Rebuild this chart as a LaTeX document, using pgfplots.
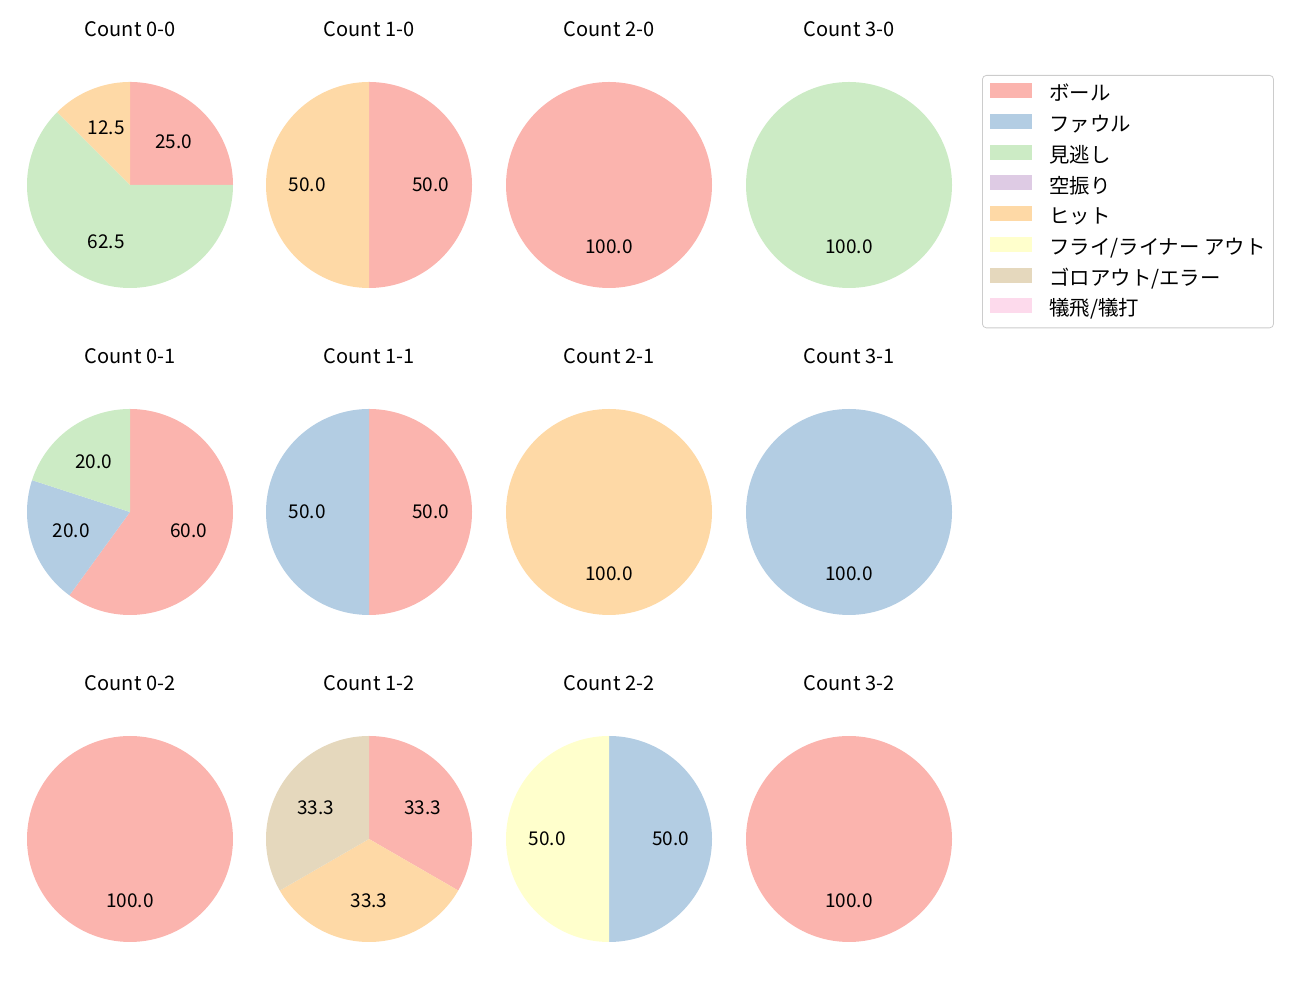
\documentclass[border=0pt]{standalone}
\usepackage{pgfplots}
\pgfplotsset{compat=1.18}
\usepackage{fontspec}
\setmainfont{Noto Sans CJK JP}
\definecolor{cBall}{HTML}{FBB4AE}
\definecolor{cFoul}{HTML}{B3CDE3}
\definecolor{cLook}{HTML}{CCEBC5}
\definecolor{cSwing}{HTML}{DECBE4}
\definecolor{cHit}{HTML}{FED9A6}
\definecolor{cFly}{HTML}{FFFFCC}
\definecolor{cGround}{HTML}{E5D8BD}
\definecolor{cSac}{HTML}{FDDAEC}
% #1 colour, #2 start %, #3 end % (clockwise from 12 o'clock), #4 label
\newcommand{\slice}[4]{%
  \addplot[fill=#1, draw=none, domain={90-3.6*#3}:{90-3.6*#2}, samples=121, forget plot]
    ({cos(x)},{sin(x)}) -- (axis cs:0,0) -- cycle;
  \node[font=\fontsize{9.5}{11}\selectfont] at (axis cs:{0.6*cos(90-1.8*(#2+#3))},{0.6*sin(90-1.8*(#2+#3))}) {#4};
}
\pgfplotsset{pie/.style={scale only axis, width=103pt, height=103pt,
  xmin=-1, xmax=1, ymin=-1, ymax=1, hide axis, clip=false, anchor=center,
  every axis title/.style={at={(0.5,1)}, anchor=base, yshift=22.5pt, font=\fontsize{10}{12}\selectfont}}}
\begin{document}
\begin{tikzpicture}
\path[use as bounding box] (0,0) rectangle (650pt,500pt);
% Row 1
\begin{axis}[pie, at={(65pt,407.5pt)}, title={Count 0-0}]
\slice{cBall}{0}{25}{25.0}
\slice{cLook}{25}{87.5}{62.5}
\slice{cHit}{87.5}{100}{12.5}
\end{axis}
\begin{axis}[pie, at={(184.5pt,407.5pt)}, title={Count 1-0}]
\slice{cBall}{0}{50}{50.0}
\slice{cHit}{50}{100}{50.0}
\end{axis}
\begin{axis}[pie, at={(304.5pt,407.5pt)}, title={Count 2-0}]
\slice{cBall}{0}{100}{100.0}
\end{axis}
\begin{axis}[pie, at={(424.5pt,407.5pt)}, title={Count 3-0},
  legend style={at={(1.1456,1.034)}, anchor=north west, draw=black!20, rounded corners=2pt,
    font=\fontsize{10.2}{12}\selectfont, inner xsep=4pt, inner ysep=4pt, row sep=4.55pt,
    nodes={inner sep=0pt, text height=7pt, text depth=2pt},
    /tikz/every odd column/.style={column sep=8.5pt},
    /tikz/every even column/.style={column sep=5pt}},
  legend cell align=left,
  legend image code/.code={\fill[#1, draw=none, sharp corners] (0pt,-1.2pt) rectangle (21pt,6.3pt);}]
\slice{cLook}{0}{100}{100.0}
\addlegendimage{fill=cBall}\addlegendentry{ボール}
\addlegendimage{fill=cFoul}\addlegendentry{ファウル}
\addlegendimage{fill=cLook}\addlegendentry{見逃し}
\addlegendimage{fill=cSwing}\addlegendentry{空振り}
\addlegendimage{fill=cHit}\addlegendentry{ヒット}
\addlegendimage{fill=cFly}\addlegendentry{フライ/ライナー アウト}
\addlegendimage{fill=cGround}\addlegendentry{ゴロアウト/エラー}
\addlegendimage{fill=cSac}\addlegendentry{犠飛/犠打}
\end{axis}
% Row 2
\begin{axis}[pie, at={(65pt,244pt)}, title={Count 0-1}]
\slice{cBall}{0}{60}{60.0}
\slice{cFoul}{60}{80}{20.0}
\slice{cLook}{80}{100}{20.0}
\end{axis}
\begin{axis}[pie, at={(184.5pt,244pt)}, title={Count 1-1}]
\slice{cBall}{0}{50}{50.0}
\slice{cFoul}{50}{100}{50.0}
\end{axis}
\begin{axis}[pie, at={(304.5pt,244pt)}, title={Count 2-1}]
\slice{cHit}{0}{100}{100.0}
\end{axis}
\begin{axis}[pie, at={(424.5pt,244pt)}, title={Count 3-1}]
\slice{cFoul}{0}{100}{100.0}
\end{axis}
% Row 3
\begin{axis}[pie, at={(65pt,80.5pt)}, title={Count 0-2}]
\slice{cBall}{0}{100}{100.0}
\end{axis}
\begin{axis}[pie, at={(184.5pt,80.5pt)}, title={Count 1-2}]
\slice{cBall}{0}{33.333}{33.3}
\slice{cHit}{33.333}{66.667}{33.3}
\slice{cGround}{66.667}{100}{33.3}
\end{axis}
\begin{axis}[pie, at={(304.5pt,80.5pt)}, title={Count 2-2}]
\slice{cFoul}{0}{50}{50.0}
\slice{cFly}{50}{100}{50.0}
\end{axis}
\begin{axis}[pie, at={(424.5pt,80.5pt)}, title={Count 3-2}]
\slice{cBall}{0}{100}{100.0}
\end{axis}
\end{tikzpicture}
\end{document}
